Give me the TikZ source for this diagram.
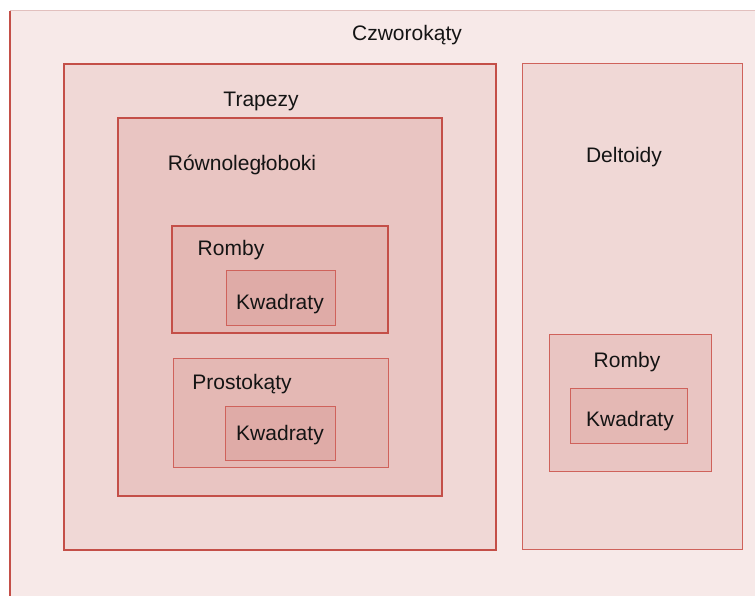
\documentclass[tikz,border=0pt]{standalone}
\usepackage{fontspec}
\setmainfont{Liberation Sans}
\begin{document}
\definecolor{edge}{HTML}{C44F48}
\definecolor{thinedge}{HTML}{CF625B}
\definecolor{faint}{HTML}{E2C0BE}
\definecolor{lvA}{HTML}{F7E9E8}
\definecolor{lvB}{HTML}{F0D8D6}
\definecolor{lvC}{HTML}{E9C5C2}
\definecolor{lvD}{HTML}{E4B8B4}
\definecolor{lvE}{HTML}{DFABA7}
\begin{tikzpicture}[x=1pt,y=-1pt,
  setbox/.style={draw=thinedge,line width=0.9pt},
  heavybox/.style={draw=edge,line width=2.5pt},
  lbl/.style={font=\fontsize{21}{25}\selectfont,text=black!92,inner sep=0pt}]
\useasboundingbox (0,0) rectangle (755,596);
\fill[white] (0,0) rectangle (755,596);
% outer set: quadrilaterals
\fill[lvA] (10,11) rectangle (755,596);
\draw[faint,line width=1pt] (10,11) -- (755,11);
\draw[edge,line width=2pt] (10,11) -- (10,596);
\node[lbl] (czw) at (407,35) {Czworokąty};
% trapezoids
\draw[heavybox,fill=lvB] (64,64) rectangle (496,550);
\node[lbl] (trap) at (261,101) {Trapezy};
% parallelograms
\draw[heavybox,fill=lvC] (118,118) rectangle (442,496);
\node[lbl] (rown) at (242,165) {Równoległoboki};
% rhombi inside parallelograms
\draw[heavybox,fill=lvD] (172,226) rectangle (388,333);
\node[lbl] (romA) at (231,250) {Romby};
\draw[setbox,fill=lvE] (226,270) rectangle (335,325);
\node[lbl] (kwA) at (280,304) {Kwadraty};
% rectangles
\draw[setbox,fill=lvD] (173,358) rectangle (388,467);
\node[lbl] (pros) at (242,384) {Prostokąty};
\draw[setbox,fill=lvE] (225,406) rectangle (335,460);
\node[lbl] (kwB) at (280,435) {Kwadraty};
% kites
\draw[setbox,fill=lvB] (522,63) rectangle (742,549);
\node[lbl] (delt) at (624,157) {Deltoidy};
\draw[setbox,fill=lvC] (549,334) rectangle (711,471);
\node[lbl] (romB) at (627,362) {Romby};
\draw[setbox,fill=lvD] (570,388) rectangle (687,443);
\node[lbl] (kwC) at (630,421) {Kwadraty};
\end{tikzpicture}
\end{document}
